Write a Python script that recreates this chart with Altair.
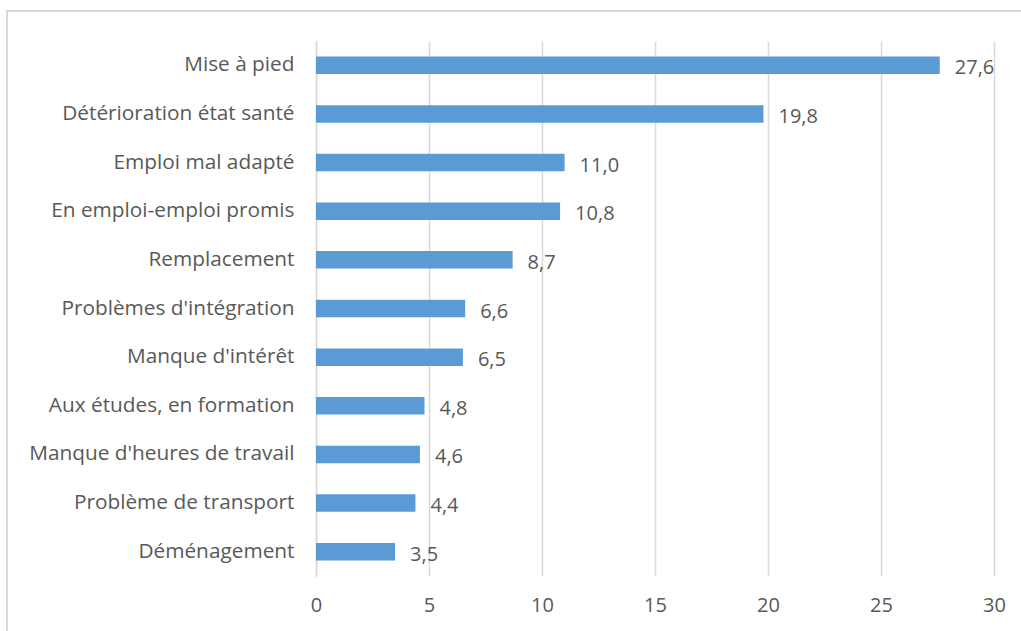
import altair as alt
import pandas as pd

categories = [
    "Mise à pied",
    "Détérioration état santé",
    "Emploi mal adapté",
    "En emploi-emploi promis",
    "Remplacement",
    "Problèmes d'intégration",
    "Manque d'intérêt",
    "Aux études, en formation",
    "Manque d'heures de travail",
    "Problème de transport",
    "Déménagement",
]
values = [27.6, 19.8, 11.0, 10.8, 8.7, 6.6, 6.5, 4.8, 4.6, 4.4, 3.5]
labels = [f"{v:.1f}".replace(".", ",") for v in values]

df = pd.DataFrame({"cat": categories, "val": values, "lab": labels})

FONT = "Open Sans"
GREY = "#595959"
GRID = "#d9d9d9"
FS = 20

x_enc = alt.X(
    "val:Q",
    scale=alt.Scale(domain=[0, 30], nice=False),
    axis=alt.Axis(
        values=[0, 5, 10, 15, 20, 25, 30],
        title=None,
        grid=True,
        gridColor=GRID,
        gridWidth=1.5,
        domain=False,
        ticks=False,
        labelFlush=False,
        labelPadding=19,
        labelFont=FONT,
        labelFontSize=FS,
        labelColor=GREY,
    ),
)
y_enc = alt.Y(
    "cat:N",
    sort=categories,
    scale=alt.Scale(paddingInner=0.64, paddingOuter=0.32),
    axis=alt.Axis(
        title=None,
        domain=True,
        domainColor=GRID,
        domainWidth=1.5,
        ticks=False,
        labelPadding=22,
        labelFont=FONT,
        labelFontSize=20.8,
        labelColor=GREY,
        labelLimit=400,
    ),
)

frame = alt.Chart(pd.DataFrame({"a": [0]})).mark_rect(
    fill=None, stroke=GRID, strokeWidth=2
).encode(
    x=alt.value(-309), x2=alt.value(720), y=alt.value(-30), y2=alt.value(620)
)

bars = alt.Chart(df).mark_bar(color="#5B9BD5").encode(x=x_enc, y=y_enc)

text = alt.Chart(df).mark_text(
    align="left", baseline="middle", dx=15, dy=3, font=FONT, fontSize=FS, color=GREY
).encode(x="val:Q", y=alt.Y("cat:N", sort=categories), text="lab:N")

chart = alt.layer(frame, bars, text).properties(
    width=678,
    height=535,
    autosize=alt.AutoSizeParams(type="none"),
    padding={"left": 316, "top": 41, "right": 27, "bottom": 55},
    background="white",
).configure_view(stroke=None)

chart.save("out.html", embed_options={"renderer": "svg", "actions": False})
